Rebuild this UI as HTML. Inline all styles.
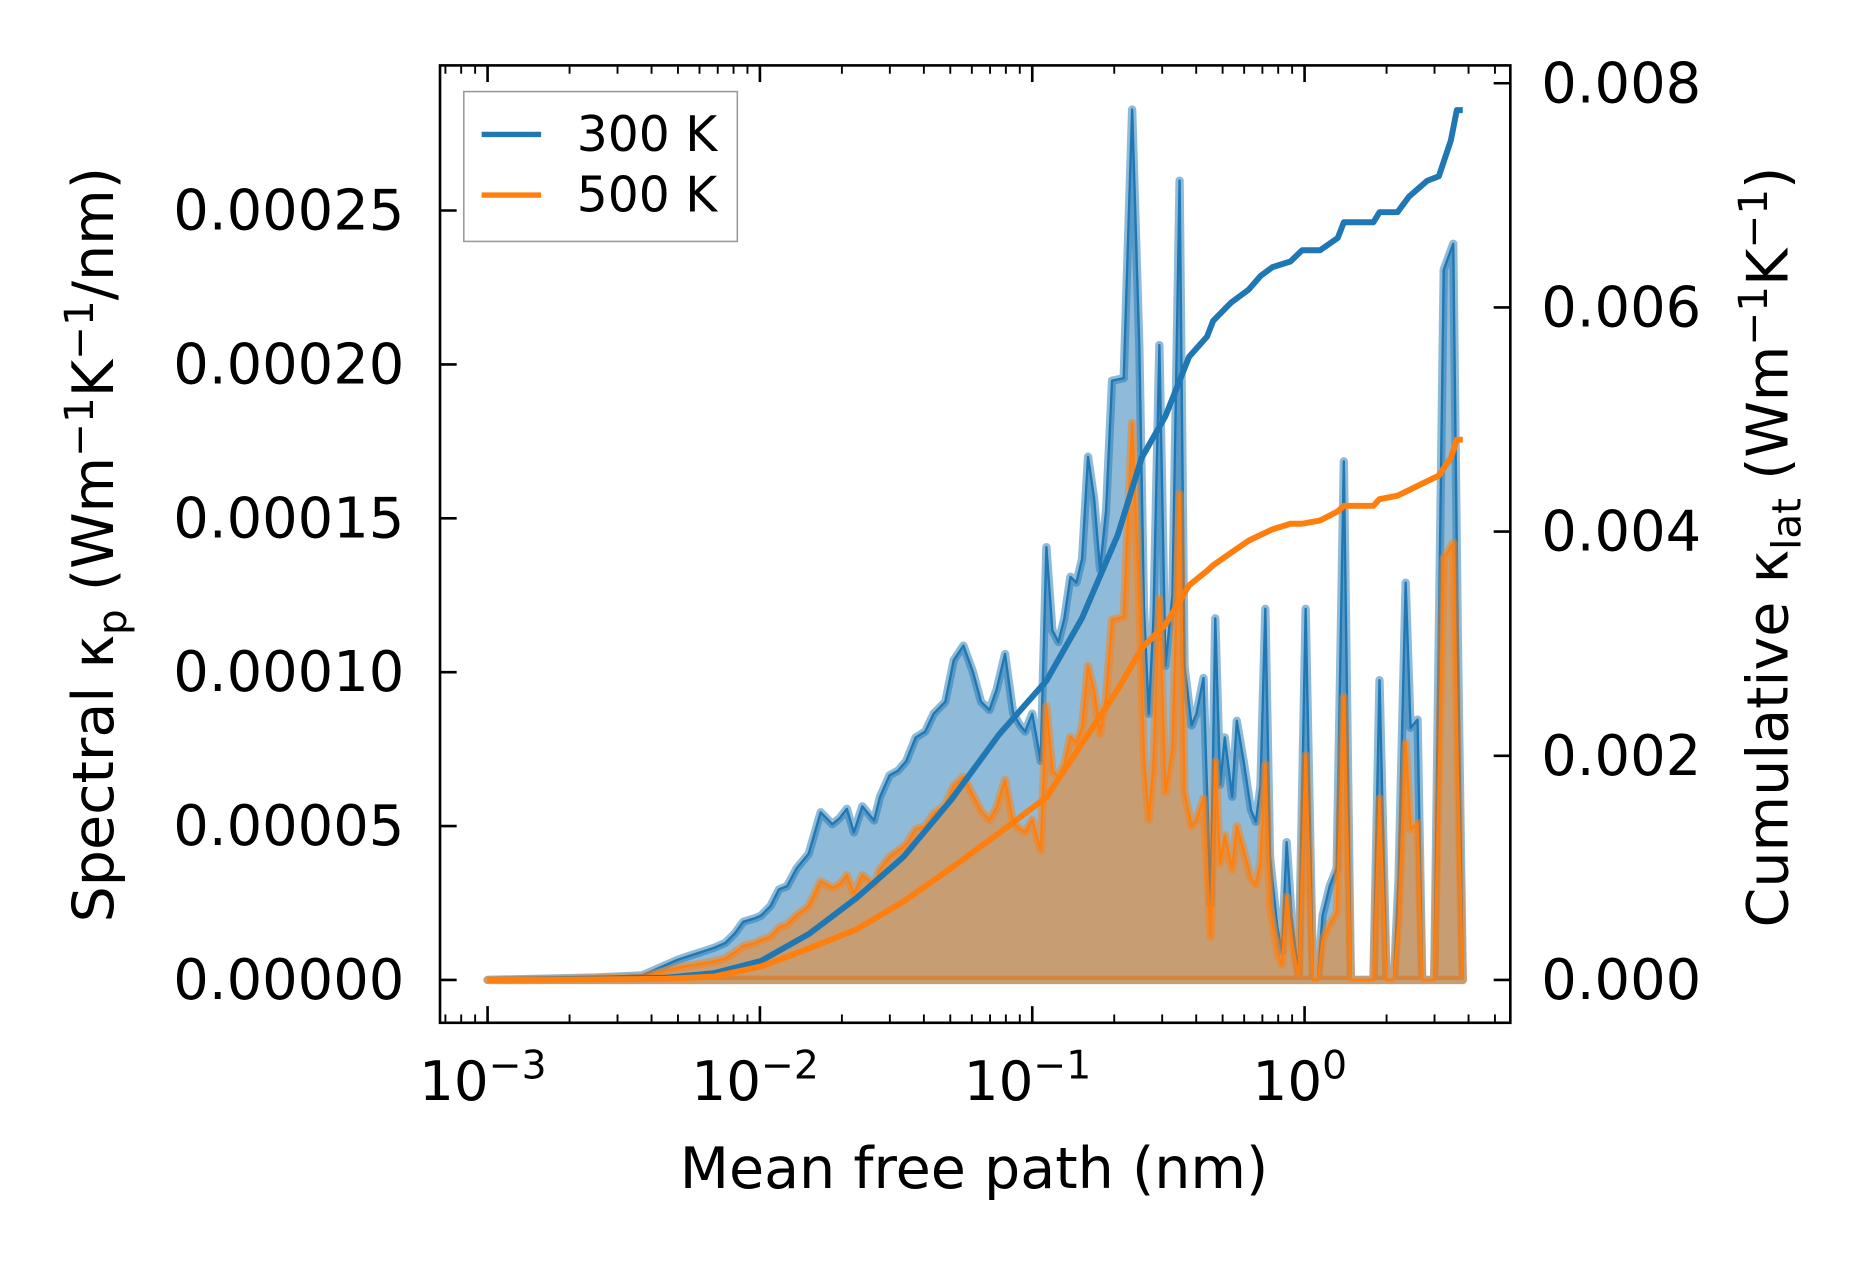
<!DOCTYPE html>
<html><head><meta charset="utf-8">
<style>
html,body{margin:0;padding:0;background:#fff;}
svg{display:block;}
text{font-family:"DejaVu Sans","Liberation Sans",sans-serif;fill:#000;}
</style></head>
<body>
<svg id="chart" width="1864" height="1261" viewBox="0 0 1567.4 1060.3" preserveAspectRatio="none" xmlns="http://www.w3.org/2000/svg">
<g id="fills"></g>
<g id="cums"></g>
<g id="axes"></g>
</svg>
<script>
// spectral data: log10 of mean free path (nm), values in 1e-5 W m^-1 K^-1 / nm
const logMfp = [-3.000,-2.607,-2.432,-2.301,-2.170,-2.127,-2.092,-2.061,-2.017,-1.996,
-1.961,-1.930,-1.900,-1.865,-1.821,-1.777,-1.734,-1.707,-1.681,-1.655,
-1.624,-1.581,-1.559,-1.524,-1.493,-1.463,-1.428,-1.393,-1.362,-1.319,
-1.288,-1.253,-1.218,-1.188,-1.157,-1.131,-1.100,-1.070,-1.044,-1.026,
-1.000,-0.969,-0.948,-0.926,-0.904,-0.882,-0.860,-0.838,-0.817,-0.795,
-0.773,-0.751,-0.729,-0.707,-0.664,-0.633,-0.607,-0.590,-0.572,-0.555,
-0.533,-0.511,-0.485,-0.459,-0.441,-0.415,-0.397,-0.371,-0.345,-0.328,
-0.310,-0.293,-0.266,-0.249,-0.223,-0.197,-0.179,-0.162,-0.144,-0.127,
-0.100,-0.083,-0.066,-0.048,-0.022,0.004,0.031,0.048,0.066,0.092,
0.118,0.144,0.170,0.253,0.275,0.301,0.328,0.345,0.371,0.389,
0.415,0.432,0.476,0.511,0.546,0.563,0.581];
const spec300 = [0,0.08,0.15,0.66,1.04,1.20,1.51,1.89,2.01,2.09,
2.40,2.94,3.05,3.63,4.10,5.45,5.06,5.26,5.56,4.79,
5.64,5.18,5.95,6.65,6.80,7.11,7.88,8.07,8.65,9.04,
10.39,10.86,10.01,9.04,8.77,9.43,10.59,8.65,8.27,8.07,
8.65,7.11,14.06,11.36,10.98,11.75,13.10,12.91,13.68,17.00,
15.65,13.33,15.26,19.47,19.55,28.28,20.63,12.13,8.65,11.75,
20.63,10.20,12.52,25.97,10.20,8.27,8.65,9.81,2.47,11.75,
6.34,7.88,5.95,8.42,7.07,5.53,5.14,6.30,12.06,4.02,
1.70,0.93,4.48,2.09,0.15,12.06,0,0,2.09,3.05,
3.63,16.85,0,0,9.74,0,0,3.25,12.91,8.19,
8.46,0,0,23.07,23.92,10.98,0];
const spec500 = [0,0.05,0.1,0.4,0.6,0.7,0.9,1.1,1.2,1.3,
1.4,1.7,1.8,2.1,2.4,3.2,3.0,3.1,3.4,2.8,
3.4,3.1,3.6,4.0,4.2,4.4,4.9,5.0,5.4,5.7,
6.3,6.6,6.0,5.5,5.2,5.6,6.5,5.1,4.9,4.8,
5.2,4.2,8.9,6.8,6.6,7.0,7.9,7.7,8.2,10.2,
9.4,8.0,9.2,11.7,11.8,18.1,12.4,7.2,5.2,7.0,
12.4,6.1,7.5,15.8,6.1,5.0,5.2,5.9,1.4,7.1,
3.8,4.7,3.6,5.0,4.2,3.3,3.1,3.8,7.0,2.4,
0.9,0.5,2.7,1.3,0.1,7.3,0,0,1.3,1.8,
2.2,9.2,0,0,5.9,0,0,1.9,7.7,4.9,
5.1,0,0,13.7,14.2,6.6,0];
// cumulative data: values in 1e-3 W m^-1 K^-1
const cumLogMfp = [-3,-2.345,-2.170,-1.996,-1.821,-1.646,-1.472,-1.297,-1.122,-0.948,-0.817,-0.686,-0.598,-0.511,-0.424,-0.358,-0.336,-0.271,-0.205,-0.162,-0.118,-0.052,-0.009,0.057,0.122,0.144,0.253,0.275,0.341,0.384,0.450,0.493,0.537,0.559,0.581];
const cum300 = [0,0.02,0.06,0.17,0.41,0.73,1.10,1.61,2.19,2.67,3.23,3.97,4.66,5.03,5.56,5.74,5.88,6.04,6.16,6.28,6.36,6.41,6.51,6.51,6.62,6.76,6.76,6.85,6.85,6.99,7.13,7.17,7.49,7.76,7.76];
const cum500 = [0,0.01,0.03,0.12,0.28,0.45,0.70,1.00,1.31,1.63,2.11,2.59,2.96,3.17,3.52,3.65,3.70,3.81,3.92,3.97,4.02,4.07,4.07,4.10,4.18,4.23,4.23,4.29,4.32,4.37,4.45,4.50,4.66,4.82,4.82];
const leftTicks = [0,5,10,15,20,25];
const leftTickLabels = ["0.00000","0.00005","0.00010","0.00015","0.00020","0.00025"];
const rightTicks = [0,2,4,6,8];
const rightTickLabels = ["0.000","0.002","0.004","0.006","0.008"];
const xDecades = [-3,-2,-1,0];
const xTickExps = ["\u22123","\u22122","\u22121","0"];

const NS="http://www.w3.org/2000/svg";
const AX={l:370,r:1270,t:55,b:860};
const X=lg=>410+(lg+3)*229;
const YL=v=>824-v*25.88;
const YR=v=>824-v*94.25;
function mk(tag,attrs,parent){const e=document.createElementNS(NS,tag);for(const k in attrs)e.setAttribute(k,attrs[k]);parent.appendChild(e);return e;}
const fills=document.getElementById('fills'),cums=document.getElementById('cums'),axes=document.getElementById('axes');

function spectral(vals,color,name){
  let pts=logMfp.map((l,i)=>X(l).toFixed(1)+','+YL(vals[i]).toFixed(1));
  const base=X(logMfp[logMfp.length-1]).toFixed(1)+','+YL(0)+' '+X(logMfp[0]).toFixed(1)+','+YL(0);
  const p=mk('polygon',{points:pts.join(' ')+' '+base,fill:color,'fill-opacity':0.5,stroke:color,'stroke-opacity':0.5,'stroke-width':7,'stroke-linejoin':'round'},fills);
  
  
  const l=mk('polyline',{points:pts.join(' '),fill:'none',stroke:color,'stroke-width':2,'stroke-linejoin':'round'},fills);
  
  
}
spectral(spec300,'#1f77b4','spectral-300k');
spectral(spec500,'#ff7f0e','spectral-500k');
function cum(vals,color,name){
  const pts=cumLogMfp.map((l,i)=>X(l).toFixed(1)+','+YR(vals[i]).toFixed(1)).join(' ');
  const l=mk('polyline',{points:pts,fill:'none',stroke:color,'stroke-width':5,'stroke-linejoin':'round'},cums);
  
  
}
cum(cum300,'#1f77b4','cumulative-300k');
cum(cum500,'#ff7f0e','cumulative-500k');

const fr=mk('rect',{x:AX.l,y:AX.t,width:AX.r-AX.l,height:AX.b-AX.t,fill:'none',stroke:'#000','stroke-width':2.2},axes);


for(let d=-4;d<=0;d++){
  for(let m=1;m<10;m++){
    const lg=d+Math.log10(m);const x=X(lg);
    if(x<AX.l||x>AX.r)continue;
    const len=m===1?14:7,w=m===1?2.2:1.6;
    mk('line',{x1:x,x2:x,y1:AX.b,y2:AX.b-len,stroke:'#000','stroke-width':w},axes);
    mk('line',{x1:x,x2:x,y1:AX.t,y2:AX.t+len,stroke:'#000','stroke-width':w},axes);
  }
}
xDecades.forEach((d,i)=>{
  const t=mk('text',{x:X(d)-4,y:925,'font-size':46,'text-anchor':'middle'},axes);
  
  
  const a=document.createElementNS(NS,'tspan');a.textContent='10';t.appendChild(a);
  const b=document.createElementNS(NS,'tspan');b.setAttribute('dy','-18');b.setAttribute('font-size','33');b.textContent=xTickExps[i];t.appendChild(b);
});
leftTicks.forEach((v,i)=>{
  const y=YL(v);
  mk('line',{x1:AX.l,x2:AX.l+14,y1:y,y2:y,stroke:'#000','stroke-width':2.2},axes);
  const t=mk('text',{x:340,y:y+16,'font-size':47,'text-anchor':'end'},axes);
  t.textContent=leftTickLabels[i];
  
  
});
rightTicks.forEach((v,i)=>{
  const y=YR(v);
  mk('line',{x1:AX.r,x2:AX.r-14,y1:y,y2:y,stroke:'#000','stroke-width':2.2},axes);
  const t=mk('text',{x:1296,y:y+16,'font-size':47,'text-anchor':'start'},axes);
  t.textContent=rightTickLabels[i];
  
  
});
</script>
<svg style="position:absolute;left:0;top:0" width="1864" height="1261" viewBox="0 0 1567.4 1060.3" preserveAspectRatio="none" xmlns="http://www.w3.org/2000/svg">
<text x="819" y="999" font-size="48" text-anchor="middle">Mean free path (nm)</text>
<text transform="translate(95,458) rotate(-90)" font-size="48" text-anchor="middle">Spectral κ<tspan font-size="34" dy="11">p</tspan><tspan dy="-11"> (Wm</tspan><tspan font-size="34" dy="-17">−1</tspan><tspan dy="17">K</tspan><tspan font-size="34" dy="-17">−1</tspan><tspan dy="17">/nm)</tspan></text>
<text transform="translate(1503,460) rotate(-90)" font-size="48" text-anchor="middle">Cumulative κ<tspan font-size="34" dy="11">lat</tspan><tspan dy="-11"> (Wm</tspan><tspan font-size="34" dy="-17">−1</tspan><tspan dy="17">K</tspan><tspan font-size="34" dy="-17">−1</tspan><tspan dy="17">)</tspan></text>
<g>
<rect x="390" y="77" width="230" height="126" fill="#fff" fill-opacity="0.8" stroke="#999" stroke-width="1.3"/>
<line x1="405" x2="455" y1="113" y2="113" stroke="#1f77b4" stroke-width="4.5"/>
<text x="485" y="127" font-size="41">300 K</text>
<line x1="405" x2="455" y1="164" y2="164" stroke="#ff7f0e" stroke-width="4.5"/>
<text x="485" y="178" font-size="41">500 K</text>
</g>
</svg>
</body></html>
